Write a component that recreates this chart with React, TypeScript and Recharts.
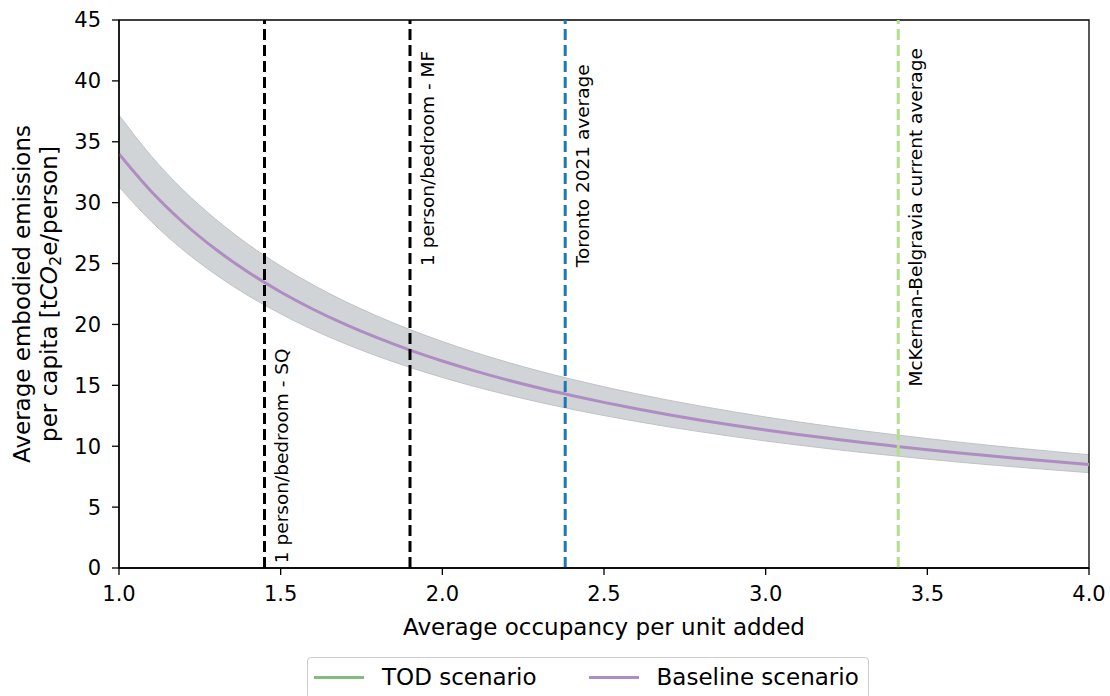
import {
  Area,
  ComposedChart,
  Line,
  ReferenceArea,
  ReferenceDot,
  ReferenceLine,
  XAxis,
  YAxis,
} from "recharts";

const FONT = "'DejaVu Sans', sans-serif";

// values
const occupancy = [
  1.0, 1.1, 1.2, 1.3, 1.4, 1.5, 1.6, 1.7, 1.8, 1.9, 2.0, 2.1, 2.2, 2.3, 2.4, 2.5,
  2.6, 2.7, 2.8, 2.9, 3.0, 3.1, 3.2, 3.3, 3.4, 3.5, 3.6, 3.7, 3.8, 3.9, 4.0,
];
const baseline = [
  34.0, 30.91, 28.33, 26.15, 24.29, 22.67, 21.25, 20.0, 18.89, 17.89, 17.0,
  16.19, 15.45, 14.78, 14.17, 13.6, 13.08, 12.59, 12.14, 11.72, 11.33, 10.97,
  10.63, 10.3, 10.0, 9.71, 9.44, 9.19, 8.95, 8.72, 8.5,
];
const lowerBand = [
  31.3, 28.45, 26.08, 24.08, 22.36, 20.87, 19.56, 18.41, 17.39, 16.47, 15.65,
  14.9, 14.23, 13.61, 13.04, 12.52, 12.04, 11.59, 11.18, 10.79, 10.43, 10.1,
  9.78, 9.48, 9.21, 8.94, 8.69, 8.46, 8.24, 8.03, 7.83,
];
const upperBand = [
  37.2, 33.82, 31.0, 28.62, 26.57, 24.8, 23.25, 21.88, 20.67, 19.58, 18.6,
  17.71, 16.91, 16.17, 15.5, 14.88, 14.31, 13.78, 13.29, 12.83, 12.4, 12.0,
  11.63, 11.27, 10.94, 10.63, 10.33, 10.05, 9.79, 9.54, 9.3,
];

const markerNames = [
  "1 person/bedroom - SQ",
  "1 person/bedroom - MF",
  "Toronto 2021 average",
  "McKernan-Belgravia current average",
];
const markerX = [1.45, 1.9, 2.38, 3.41];
const markerLabelY = [0.4, 24.8, 24.7, 14.9];
const markerColors = ["#000000", "#000000", "#1f77b4", "#b2df8a"];

const xTicks = [1.0, 1.5, 2.0, 2.5, 3.0, 3.5, 4.0];
const yTicks = [0, 5, 10, 15, 20, 25, 30, 35, 40, 45];

const legendNames = ["TOD scenario", "Baseline scenario"];
const legendColors = ["#7fbf7b", "#af8dc3"];

const chartData = occupancy.map((x, i) => ({
  x,
  base: baseline[i],
  band: [lowerBand[i], upperBand[i]],
}));

const tickStyle = { fill: "#000", fontSize: 21, fontFamily: FONT };

function markerLabel(text: string) {
  return (props: any) => {
    const vb = props.viewBox || {};
    const tx = vb.x + 24;
    const ty = vb.y;
    return (
      <text
        x={tx}
        y={ty}
        transform={`rotate(-90 ${tx} ${ty})`}
        textAnchor="start"
        fontSize={18.5}
        fontFamily={FONT}
        fill="#000"
      >
        {text}
      </text>
    );
  };
}

function YLabel(props: any) {
  const vb = props.viewBox || { x: 0, y: 20, width: 119, height: 548 };
  const cy = vb.y + vb.height / 2;
  return (
    <g fontFamily={FONT} fontSize={23} fill="#000">
      <text x={30} y={cy} transform={`rotate(-90 30 ${cy})`} textAnchor="middle">
        Average embodied emissions
      </text>
      <text x={57} y={cy} transform={`rotate(-90 57 ${cy})`} textAnchor="middle">
        per capita [t
        <tspan fontStyle="italic">CO</tspan>
        <tspan fontSize={16} dy={4}>2</tspan>
        <tspan dy={-4}>e/person]</tspan>
      </text>
    </g>
  );
}

function XLabel(props: any) {
  const vb = props.viewBox || { x: 119, y: 568, width: 970, height: 40 };
  return (
    <text
      x={vb.x + vb.width / 2}
      y={vb.y + 67}
      textAnchor="middle"
      fontFamily={FONT}
      fontSize={23}
      fill="#000"
    >
      Average occupancy per unit added
    </text>
  );
}

export default function App() {
  return (
    <div
      style={{
        position: "absolute",
        left: 0,
        top: 0,
        width: 1110,
        height: 696,
        overflow: "hidden",
        background: "#fff",
      }}
    >
      <ComposedChart
        width={1110}
        height={696}
        data={chartData}
        margin={{ top: 20, right: 21, bottom: 88, left: 0 }}
      >
        <XAxis
          dataKey="x"
          type="number"
          domain={[1, 4]}
          ticks={xTicks}
          tickFormatter={(v: number) => v.toFixed(1)}
          allowDataOverflow
          height={40}
          tickSize={7}
          tickMargin={11}
          tick={tickStyle}
          axisLine={{ stroke: "#000", strokeWidth: 1.3 }}
          tickLine={{ stroke: "#000", strokeWidth: 1.3 }}
          label={<XLabel />}
        />
        <YAxis
          type="number"
          domain={[0, 45]}
          ticks={yTicks}
          allowDataOverflow
          width={119}
          tickSize={7}
          tickMargin={11}
          tick={tickStyle}
          axisLine={{ stroke: "#000", strokeWidth: 1.3 }}
          tickLine={{ stroke: "#000", strokeWidth: 1.3 }}
          label={<YLabel />}
        />
        <Area
          dataKey="band"
          type="monotone"
          fill="#d0d4d6"
          fillOpacity={1}
          stroke="#bfc2c8"
          strokeWidth={1}
          dot={false}
          activeDot={false}
          isAnimationActive={false}
        />
        <Line
          dataKey="base"
          type="monotone"
          stroke="#af8dc3"
          strokeWidth={3}
          dot={false}
          activeDot={false}
          isAnimationActive={false}
        />
        {markerX.map((v, i) => (
          <ReferenceLine
            key={`line-${i}`}
            x={v}
            stroke={markerColors[i]}
            strokeWidth={3}
            strokeDasharray="11 5"
          />
        ))}
        {markerX.map((v, i) => (
          <ReferenceDot
            key={`lab-${i}`}
            x={v}
            y={markerLabelY[i]}
            r={0}
            fill="none"
            stroke="none"
            ifOverflow="visible"
            label={markerLabel(markerNames[i])}
          />
        ))}
        <ReferenceArea
          x1={1}
          x2={4}
          y1={0}
          y2={45}
          fill="none"
          stroke="#000"
          strokeWidth={1.3}
          ifOverflow="visible"
        />
      </ComposedChart>
      <div
        style={{
          position: "absolute",
          left: 307,
          top: 657,
          width: 562,
          height: 50,
          border: "1px solid #cccccc",
          borderRadius: 4,
          boxSizing: "border-box",
          fontFamily: FONT,
          fontSize: 23,
          lineHeight: "27px",
          color: "#000",
          display: "flex",
          alignItems: "flex-start",
          paddingTop: 6,
        }}
      >
        {legendNames.map((name, i) => (
          <div
            key={name}
            style={{
              display: "flex",
              alignItems: "center",
              marginLeft: i === 0 ? 6 : 52,
              whiteSpace: "nowrap",
            }}
          >
            <div
              style={{
                width: 50,
                height: 3,
                background: legendColors[i],
                marginRight: 18,
              }}
            />
            <span>{name}</span>
          </div>
        ))}
      </div>
    </div>
  );
}
